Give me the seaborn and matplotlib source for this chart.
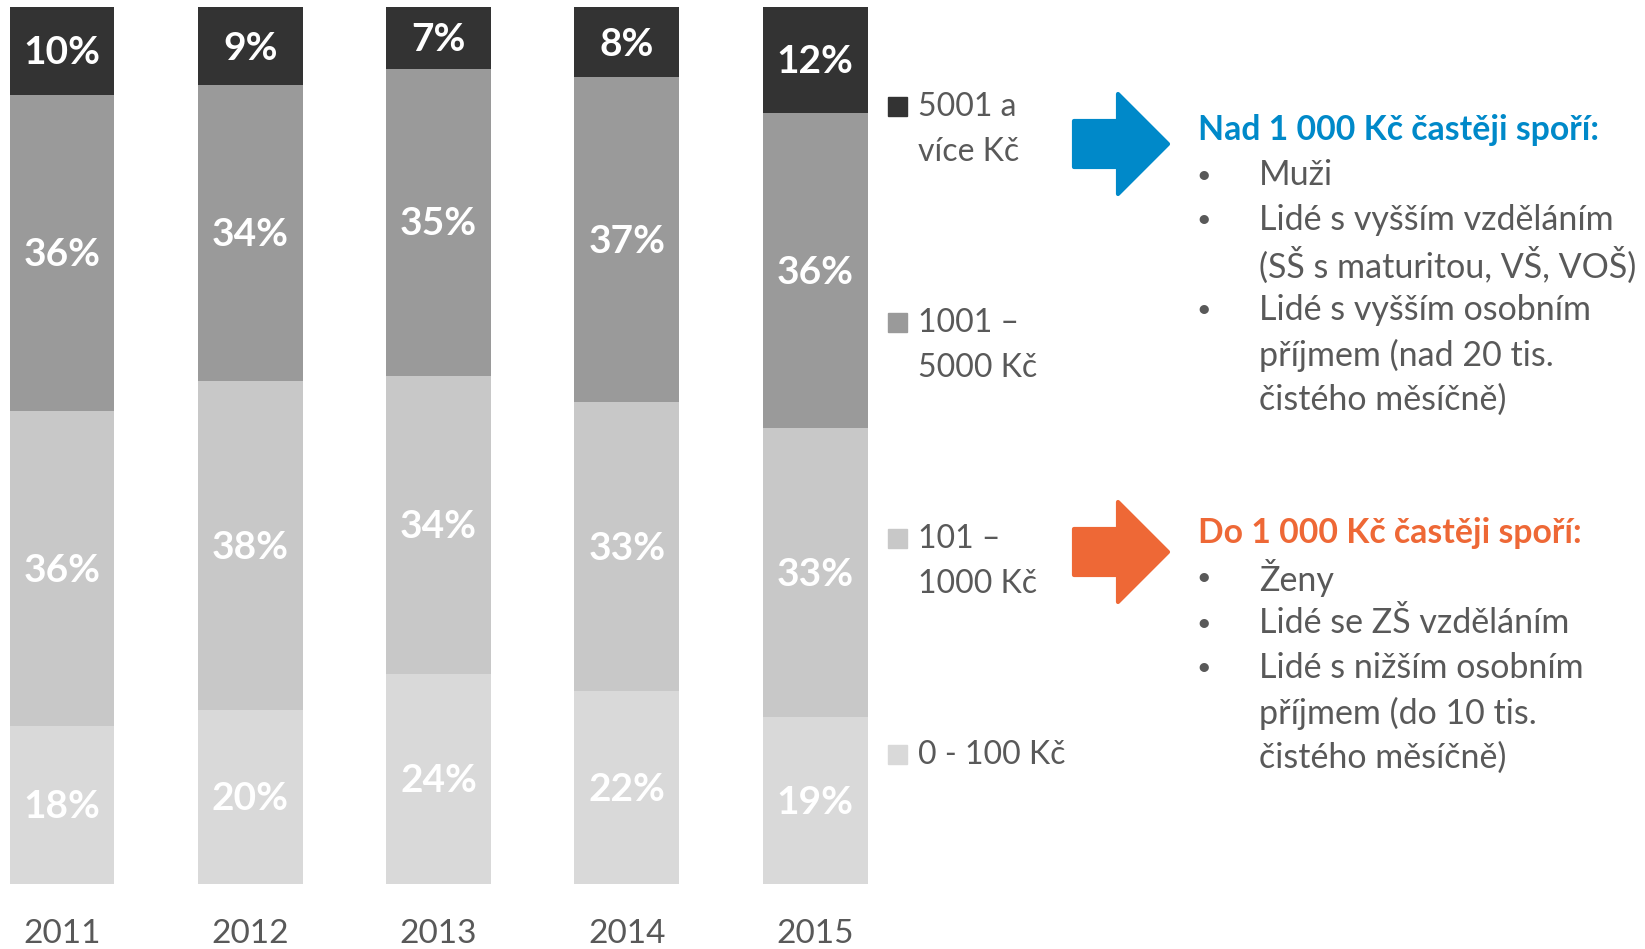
import numpy as np
import pandas as pd
import matplotlib
matplotlib.use("Agg")
import matplotlib.pyplot as plt
import seaborn as sns
from matplotlib.patches import Polygon, Rectangle

# data (pasma od spodu nahoru)
roky = ["2011", "2012", "2013", "2014", "2015"]
pasma = ["0 - 100 Kč", "101 –\n1000 Kč", "1001 –\n5000 Kč", "5001 a\nvíce Kč"]
v_0_100 = [18, 20, 24, 22, 19]
v_101_1000 = [36, 38, 34, 33, 33]
v_1001_5000 = [36, 34, 35, 37, 36]
v_5001 = [10, 9, 7, 8, 12]
barvy = ["#d9d9d9", "#c8c8c8", "#9a9a9a", "#333333"]

nad_nadpis = "Nad 1 000 Kč častěji spoří:"
nad_body = [["Muži"],
            ["Lidé s vyšším vzděláním", "(SŠ s maturitou, VŠ, VOŠ)"],
            ["Lidé s vyšším osobním", "příjmem (nad 20 tis.", "čistého měsíčně)"]]
do_nadpis = "Do 1 000 Kč častěji spoří:"
do_body = [["Ženy"],
           ["Lidé se ZŠ vzděláním"],
           ["Lidé s nižším osobním", "příjmem (do 10 tis.", "čistého měsíčně)"]]

W, H = 1645, 949
SEDA = "#595959"
MODRA = "#0089c9"
ORANZ = "#ee6836"

sns.set_theme(style="white")
plt.rcParams['font.family'] = ['Lato', 'DejaVu Sans']


def fx(px):
    return px / W


def fy(py):
    return 1 - py / H


hodnoty = np.array([v_0_100, v_101_1000, v_1001_5000, v_5001], dtype=float)
podily = hodnoty / hodnoty.sum(axis=0)
kumul = np.cumsum(podily, axis=0)

fig = plt.figure(figsize=(W / 100, H / 100), dpi=100)
ax = fig.add_axes([0, fy(884), fx(880), fy(7.3) - fy(884)])

# skladane sloupce: kreslime kumulativni vysky od nejvyssi
for i in range(len(pasma) - 1, -1, -1):
    df = pd.DataFrame({"rok": roky, "hodnota": kumul[i]})
    sns.barplot(data=df, x="rok", y="hodnota", color=barvy[i], saturation=1,
                width=0.557, linewidth=0, errorbar=None, ax=ax)

for i in range(len(pasma)):
    for j in range(len(roky)):
        stred = kumul[i, j] - podily[i, j] / 2
        ax.text(j, stred - 0.002, f"{int(hodnoty[i, j])}%", ha="center", va="center",
                color="white", fontsize=28, fontweight="bold")

ax.set_xlim(-62 / 188.3, (880 - 62) / 188.3)
ax.set_ylim(0, 1)
ax.set_xlabel("")
ax.set_ylabel("")
ax.set_yticks([])
ax.tick_params(axis="x", length=0, pad=25, labelsize=24, labelcolor=SEDA)
sns.despine(ax=ax, left=True, bottom=True)

# legenda
leg_y = [755, 539, 323, 107]
for i in range(len(pasma)):
    y0 = leg_y[i]
    fig.patches.append(Rectangle((fx(888), fy(y0 + 9)), fx(19), 19 / H,
                                 transform=fig.transFigure, color=barvy[i]))
    for k, radek in enumerate(pasma[i].split("\n")):
        fig.text(fx(918), fy(y0 + k * 45), radek, ha="left", va="center",
                 fontsize=23, color=SEDA)


def sipka(y_stred, barva):
    x0, x1, x2 = 1074, 1118, 1168
    pts = [(x0, y_stred - 23), (x1, y_stred - 23), (x1, y_stred - 50),
           (x2, y_stred), (x1, y_stred + 50), (x1, y_stred + 23),
           (x0, y_stred + 23)]
    fig.patches.append(Polygon([(fx(a), fy(b)) for a, b in pts], closed=True,
                               transform=fig.transFigure, facecolor=barva,
                               edgecolor=barva, linewidth=3, joinstyle="round"))


def blok(y_nadpis, nadpis, body, barva):
    fig.text(fx(1198), fy(y_nadpis), nadpis, ha="left", va="center",
             fontsize=24.3, fontweight="bold", color=barva)
    y = y_nadpis + 45
    for polozka in body:
        fig.text(fx(1204), fy(y), "•", ha="center", va="center",
                 fontsize=18, color=SEDA)
        for radek in polozka:
            fig.text(fx(1259), fy(y), radek, ha="left", va="center",
                     fontsize=24.5, color=SEDA)
            y += 45


sipka(144, MODRA)
sipka(552, ORANZ)
blok(130, nad_nadpis, nad_body, MODRA)
blok(533, do_nadpis, do_body, ORANZ)

fig.savefig("out.png", dpi=100)
